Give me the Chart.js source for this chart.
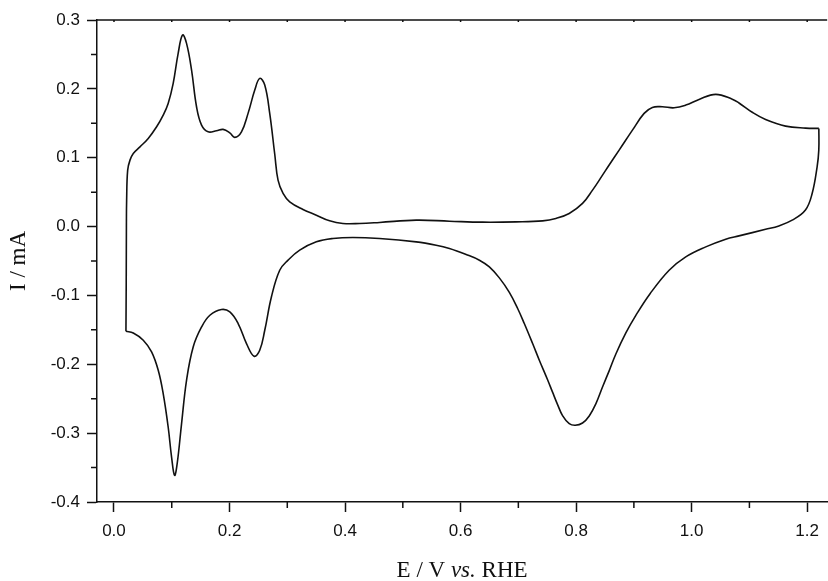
<!DOCTYPE html>
<html>
<head>
<meta charset="utf-8">
<script src="https://cdn.jsdelivr.net/npm/chart.js@4.4.1/dist/chart.umd.min.js"></script>
<style>
  html, body { margin: 0; padding: 0; background: #fff; }
  #wrap { width: 828px; height: 581px; }
</style>
</head>
<body>
<div id="wrap"><canvas id="cv" width="828" height="581"></canvas></div>
<script>
// forward (anodic) sweep, E in V vs RHE, I in mA
const fwdE = [0.0207, 0.0212, 0.0215, 0.0219, 0.0237, 0.0277, 0.0334, 0.0450, 0.0593, 0.0738, 0.0852, 0.0938,
  0.1025, 0.1111, 0.1187, 0.1256, 0.1343, 0.1429, 0.1516, 0.1630, 0.1774, 0.1889, 0.2005, 0.2090, 0.2207, 0.2321,
  0.2437, 0.2523, 0.2610, 0.2696, 0.2783, 0.2840, 0.2927, 0.3042, 0.3272, 0.3503, 0.3733, 0.3963, 0.4252, 0.4597,
  0.5232, 0.5807, 0.6383, 0.6960, 0.7420, 0.7650, 0.7880, 0.8111, 0.8284, 0.8457, 0.8572, 0.8745, 0.8975, 0.9177,
  0.9320, 0.9494, 0.9696, 0.9898, 1.0128, 1.0416, 1.0703, 1.0820, 1.1049, 1.1280, 1.1626, 1.1972, 1.2202];
const fwdI = [-0.152, -0.080, 0.000, 0.0384, 0.082, 0.0965, 0.1062, 0.1158, 0.128, 0.1449, 0.1619, 0.1789,
  0.208, 0.2516, 0.2782, 0.2661, 0.2273, 0.174, 0.1474, 0.1376, 0.1391, 0.1411, 0.1362, 0.1295, 0.1376, 0.1644,
  0.1982, 0.2152, 0.2055, 0.1644, 0.105, 0.0674, 0.0481, 0.0359, 0.0248, 0.0166, 0.0083, 0.0045, 0.0045, 0.006,
  0.0093, 0.0078, 0.0064, 0.0068, 0.0083, 0.0118, 0.019, 0.0336, 0.0529, 0.0747, 0.0895, 0.111, 0.140, 0.1644,
  0.1731, 0.174, 0.1725, 0.1764, 0.1847, 0.192, 0.185, 0.1795, 0.166, 0.1555, 0.1459, 0.143, 0.1426];

// reverse (cathodic) sweep
const revE = [1.2202, 1.2201, 1.2172, 1.2086, 1.1970, 1.1740, 1.1510, 1.1280, 1.0819, 1.0590, 1.0244, 0.9898,
  0.9610, 0.9280, 0.9034, 0.8861, 0.8688, 0.8572, 0.8457, 0.8343, 0.8227, 0.8111, 0.7985, 0.7881, 0.7765, 0.7679,
  0.7592, 0.7506, 0.7363, 0.7247, 0.7103, 0.6988, 0.6844, 0.6671, 0.6498, 0.6326, 0.6096, 0.5807, 0.5577, 0.5232,
  0.4597, 0.4136, 0.3790, 0.3503, 0.3215, 0.3013, 0.2869, 0.2725, 0.2610, 0.2523, 0.2425, 0.2294, 0.2149, 0.2005,
  0.1861, 0.1660, 0.1516, 0.1371, 0.1256, 0.1170, 0.1094, 0.1049, 0.0997, 0.0938, 0.0852, 0.0766, 0.0651, 0.0507,
  0.0334, 0.0207];
const revI = [0.1426, 0.111, 0.0868, 0.048, 0.024, 0.0093, 0.0010, -0.004, -0.0135, -0.0183, -0.0295, -0.044,
  -0.0634, -0.0975, -0.129, -0.1545, -0.185, -0.2095, -0.233, -0.2571, -0.275, -0.2853, -0.2886, -0.2862, -0.2745, -0.2585,
  -0.2405, -0.2225, -0.1941, -0.1699, -0.1408, -0.119, -0.0955, -0.0745, -0.0586, -0.0488, -0.0405, -0.0318, -0.027, -0.0222,
  -0.0173, -0.0158, -0.0173, -0.0222, -0.0343, -0.0488, -0.0634, -0.1022, -0.1506, -0.1796, -0.1883, -0.1699, -0.1408, -0.124,
  -0.1205, -0.1288, -0.1458, -0.1748, -0.2232, -0.2862, -0.3443, -0.3613, -0.3347, -0.2911, -0.2426, -0.2087, -0.182, -0.165,
  -0.1545, -0.152];

const xTicks = [0.0, 0.2, 0.4, 0.6, 0.8, 1.0, 1.2];
const xMinor = [0.1, 0.3, 0.5, 0.7, 0.9, 1.1];
const yTicks = [-0.4, -0.3, -0.2, -0.1, 0.0, 0.1, 0.2, 0.3];
const yMinor = [-0.35, -0.25, -0.15, -0.05, 0.05, 0.15, 0.25];

const xRange = [-0.0294, 1.2346];
const yRange = [-0.4, 0.3];

const zip = (xs, ys) => xs.map((x, i) => ({ x, y: ys[i] }));

const frame = {
  id: 'frame',
  afterDraw(chart) {
    const { ctx, chartArea: a, scales: { x, y } } = chart;
    ctx.save();
    ctx.strokeStyle = '#111';
    ctx.lineWidth = 1.5;
    ctx.beginPath();
    ctx.moveTo(a.left, a.top);
    ctx.lineTo(a.right, a.top);
    // top ticks (inward, small)
    xTicks.concat(xMinor).forEach(v => {
      const px = x.getPixelForValue(v);
      ctx.moveTo(px, a.top);
      ctx.lineTo(px, a.top + 2);
    });
    // minor ticks, outward
    xMinor.forEach(v => {
      const px = x.getPixelForValue(v);
      ctx.moveTo(px, a.bottom);
      ctx.lineTo(px, a.bottom + 6);
    });
    yMinor.forEach(v => {
      const py = y.getPixelForValue(v);
      ctx.moveTo(a.left, py);
      ctx.lineTo(a.left - 6, py);
    });
    ctx.stroke();

    // axis titles
    ctx.fillStyle = '#111';
    ctx.textBaseline = 'middle';
    const parts = [['E / V ', 'normal'], ['vs.', 'italic'], [' RHE', 'normal']];
    let total = 0;
    parts.forEach(p => { ctx.font = p[1] + ' 23px "Liberation Serif"'; total += ctx.measureText(p[0]).width; });
    let tx = (a.left + a.right) / 2 - total / 2;
    ctx.textAlign = 'left';
    parts.forEach(p => {
      ctx.font = p[1] + ' 23px "Liberation Serif"';
      ctx.fillText(p[0], tx, 571);
      tx += ctx.measureText(p[0]).width;
    });
    ctx.translate(19, (a.top + a.bottom) / 2);
    ctx.rotate(-Math.PI / 2);
    ctx.textAlign = 'center';
    ctx.font = '23px "Liberation Serif"';
    ctx.fillText('I / mA', 0, 0);
    ctx.restore();
  }
};

const line = { borderColor: '#111', borderWidth: 1.6, pointRadius: 0, showLine: true, tension: 0.4, fill: false };

new Chart(document.getElementById('cv'), {
  type: 'scatter',
  data: {
    datasets: [
      Object.assign({ label: 'forward', data: zip(fwdE, fwdI) }, line),
      Object.assign({ label: 'reverse', data: zip(revE, revI) }, line)
    ]
  },
  options: {
    responsive: false,
    animation: false,
    devicePixelRatio: 1,
    layout: { padding: { top: 20, right: 0, left: 0, bottom: 0 } },
    plugins: { legend: { display: false }, tooltip: { enabled: false } },
    scales: {
      x: {
        type: 'linear',
        min: xRange[0],
        max: xRange[1],
        afterBuildTicks: s => { s.ticks = xTicks.map(v => ({ value: v })); },
        afterFit: s => { s.height = 79; },
        ticks: { color: '#111', font: { family: '"Liberation Sans"', size: 17 }, padding: 9, maxRotation: 0,
          callback: v => v.toFixed(1) },
        grid: { drawOnChartArea: false, tickLength: 10, tickColor: '#111', tickWidth: 1.5 },
        border: { display: true, color: '#111', width: 1.5 }
      },
      y: {
        type: 'linear',
        min: yRange[0],
        max: yRange[1],
        afterBuildTicks: s => { s.ticks = yTicks.map(v => ({ value: v })); },
        afterFit: s => { s.width = 97; },
        ticks: { color: '#111', font: { family: '"Liberation Sans"', size: 17 }, padding: 7,
          callback: v => v.toFixed(1) },
        grid: { drawOnChartArea: false, tickLength: 10, tickColor: '#111', tickWidth: 1.5 },
        border: { display: true, color: '#111', width: 1.5 }
      }
    }
  },
  plugins: [frame]
});
</script>
</body>
</html>
